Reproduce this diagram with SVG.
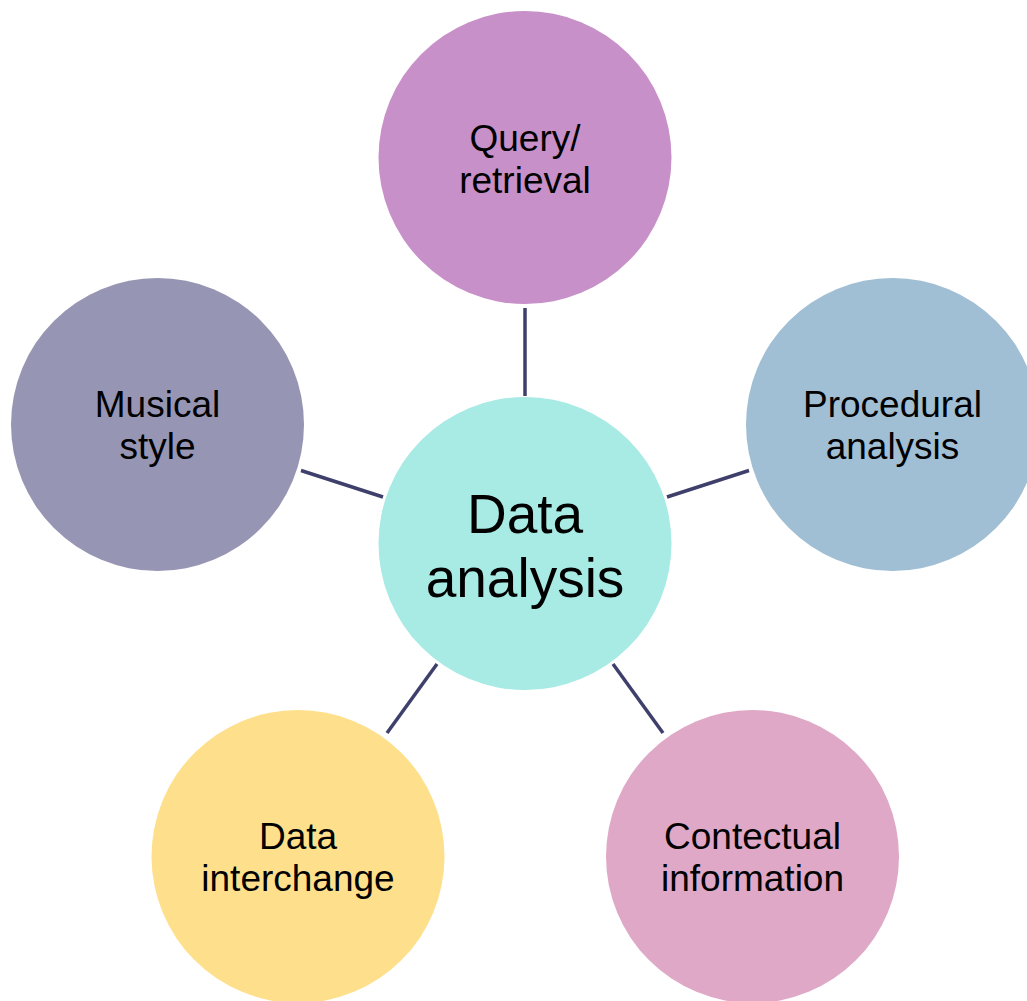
<svg xmlns="http://www.w3.org/2000/svg" width="1027" height="1001" viewBox="0 0 1027 1001">
<style>
.lbl{font-family:"Liberation Sans",Arial,sans-serif;font-size:37px;fill:#000;text-anchor:middle}
.big{font-family:"Liberation Sans",Arial,sans-serif;font-size:55px;fill:#000;text-anchor:middle}
.conn{stroke:#3f3f6c;stroke-width:3.5;fill:none}
</style>
<rect width="1027" height="1001" fill="#fff"/>
<g id="connectors">
<line class="conn" x1="525" y1="308" x2="525" y2="396"/>
<line class="conn" x1="301" y1="470.5" x2="383" y2="497"/>
<line class="conn" x1="667" y1="497" x2="749" y2="470.5"/>
<line class="conn" x1="437" y1="664" x2="387" y2="733"/>
<line class="conn" x1="613" y1="664" x2="663" y2="733"/>
</g>
<g id="center">
<circle cx="525" cy="543.5" r="146.5" fill="#a8eae4"/>
<text class="big" x="525" y="532.5">Data</text>
<text class="big" x="525" y="596.5">analysis</text>
</g>
<g id="query">
<circle cx="525" cy="157.5" r="146.5" fill="#c890c8"/>
<text class="lbl" x="525" y="151">Query/</text>
<text class="lbl" x="525" y="193">retrieval</text>
</g>
<g id="procedural">
<circle cx="892.5" cy="424.5" r="146.5" fill="#a0bed4"/>
<text class="lbl" x="892.5" y="417">Procedural</text>
<text class="lbl" x="892.5" y="459">analysis</text>
</g>
<g id="musical">
<circle cx="157.5" cy="424.5" r="146.5" fill="#9696b4"/>
<text class="lbl" x="157.5" y="417">Musical</text>
<text class="lbl" x="157.5" y="459">style</text>
</g>
<g id="interchange">
<circle cx="298" cy="856.5" r="146.5" fill="#fee08c"/>
<text class="lbl" x="298" y="849">Data</text>
<text class="lbl" x="298" y="891">interchange</text>
</g>
<g id="contectual">
<circle cx="752.5" cy="856.5" r="146.5" fill="#dea8c6"/>
<text class="lbl" x="752.5" y="849">Contectual</text>
<text class="lbl" x="752.5" y="891">information</text>
</g>
</svg>
